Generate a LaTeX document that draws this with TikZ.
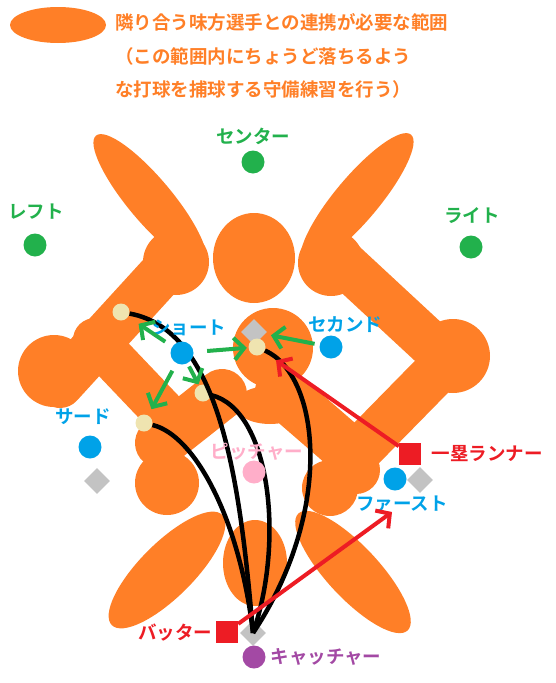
\documentclass[tikz,border=0pt]{standalone}
\usepackage{fontspec}
\setmainfont{Noto Sans CJK JP}[BoldFont={Noto Sans CJK JP Bold}]
\usetikzlibrary{arrows.meta, shapes.geometric}

\definecolor{zoneorange}{HTML}{FF7F27}
\definecolor{ofgreen}{HTML}{22B14C}
\definecolor{ifblue}{HTML}{00A2E8}
\definecolor{runred}{HTML}{ED1C24}
\definecolor{pitchpink}{HTML}{FFAEC9}
\definecolor{catchpurple}{HTML}{A349A4}
\definecolor{basegray}{HTML}{C3C3C3}
\definecolor{ballyellow}{HTML}{EFE4B0}

\begin{document}
\begin{tikzpicture}[x=1pt, y=-1pt,
      zone/.style={fill=zoneorange},
      band/.style={draw=zoneorange, line width=#1, line cap=round},
      band/.default=46pt,
      player/.style={circle, fill=#1, minimum size=23pt, inner sep=0pt},
      ball/.style={circle, fill=ballyellow, minimum size=17pt, inner sep=0pt},
      basebag/.style={diamond, fill=basegray, minimum width=26pt, minimum height=26pt, inner sep=0pt},
      runner/.style={rectangle, fill=runred, minimum size=22pt, inner sep=0pt},
      tag/.style={text=#1, font=\fontsize{18.5}{33.5}\selectfont\bfseries, inner sep=0pt},
      cover/.style={draw=ofgreen, line width=4pt, -{Straight Barb[length=10pt,width=22pt]}},
      runline/.style={draw=runred, line width=4pt, -{Straight Barb[length=10pt,width=22pt]}},
      hitline/.style={draw=black, line width=4.5pt}]

      \useasboundingbox (0,0) rectangle (555,683);

      % legend
      \fill[zone] (58,25) ellipse [x radius=48, y radius=18];
      \node[tag=zoneorange, anchor=west, align=left] (title) at (115,56)
        {隣り合う味方選手との連携が必要な範囲\\（この範囲内にちょうど落ちるよう\\な打球を捕球する守備練習を行う）};

      % zones between neighbouring fielders
      \fill[zone, rotate around={-50:(150,200)}] (150,200) ellipse [x radius=84, y radius=22];
      \fill[zone, rotate around={50:(357,199)}] (357,199) ellipse [x radius=84, y radius=22];
      \fill[zone] (176,262) circle [radius=33];
      \fill[zone] (331,263) circle [radius=33];
      \fill[zone] (254,258) ellipse [x radius=41, y radius=45];
      \fill[zone] (54,371) circle [radius=36];
      \fill[zone] (453,356) circle [radius=37];
      \draw[band] (60,385) -- (165,270);
      \draw[band] (340,260) -- (450,362);
      \draw[band=44pt] (95,340) -- (175,424);
      \draw[band] (445,363) -- (345,465);
      \fill[zone] (273,348) circle [radius=40];
      \draw[band=50pt] (222,394) -- (160,443);
      \draw[band=50pt] (280,391) -- (340,443);
      \fill[zone] (270,405) ellipse [x radius=35, y radius=19];
      \fill[zone] (167,483) circle [radius=32];
      \fill[zone] (330,488) circle [radius=28];
      \fill[zone] (356,470) circle [radius=24];
      \fill[zone, rotate around={45:(167,570)}] (167,570) ellipse [x radius=78, y radius=27];
      \fill[zone, rotate around={-47:(353,572)}] (353,572) ellipse [x radius=80, y radius=26];
      \fill[zone] (255,563) ellipse [x radius=32, y radius=43];

      % bases
      \node[basebag] (second) at (254,332) {};
      \node[basebag] (third) at (97,481) {};
      \node[basebag] (first) at (420,480) {};
      \node[basebag] (home) at (253,633) {};

      % batted balls
      \node[ball] (ballss) at (121,312) {};
      \node[ball] (ballsp) at (203,393) {};
      \node[ball] (ballst) at (144,423) {};
      \node[ball] (ballsb) at (257,347) {};

      \draw[hitline] (ballss) .. controls (220,330) and (240,480) .. (home.center);
      \draw[hitline] (ballsp) .. controls (270,410) and (285,540) .. (home.center);
      \draw[hitline] (ballst) .. controls (195,435) and (240,520) .. (home.center);
      \draw[hitline] (ballsb) .. controls (320,375) and (335,510) .. (home.center);

      % fielders
      \node[player=ofgreen] (lf) at (35,245) {};
      \node[player=ofgreen] (cf) at (253,162) {};
      \node[player=ofgreen] (rf) at (471,247) {};
      \node[player=ifblue] (ss) at (182,353) {};
      \node[player=ifblue] (sb) at (331,347) {};
      \node[player=ifblue] (tb) at (90,447) {};
      \node[player=ifblue] (fb) at (395,479) {};
      \node[player=pitchpink] (p) at (254,472) {};
      \node[player=catchpurple] (c) at (254,657) {};
      \node[runner] (run) at (410,454) {};
      \node[runner] (bat) at (227,632) {};
      \coordinate (fbtarget) at (392,512);

      \node[tag=ofgreen] (lflabel) at (36,212) {レフト};
      \node[tag=ofgreen] (cflabel) at (253,136) {センター};
      \node[tag=ofgreen] (rflabel) at (472,216) {ライト};
      \node[tag=ifblue] (sslabel) at (189,328) {ショート};
      \node[tag=ifblue] (sblabel) at (345,325) {セカンド};
      \node[tag=ifblue] (tblabel) at (83,417) {サード};
      \node[tag=ifblue] (fblabel) at (402,504) {ファースト};
      \node[tag=pitchpink] (plabel) at (257,452) {ピッチャー};
      \node[tag=catchpurple] (clabel) at (326,657) {キャッチャー};
      \node[tag=runred] (runlabel) at (487,454) {一塁ランナー};
      \node[tag=runred] (batlabel) at (175,633) {バッター};

      % covering moves
      \draw[cover, shorten <=8.5pt, shorten >=12.5pt] (ss) -- (ballss);
      \draw[cover, shorten <=13.5pt, shorten >=1.5pt] (ss) -- (ballsb);
      \draw[cover, shorten <=3.5pt, shorten >=1pt] (ss) -- (ballsp);
      \draw[cover, shorten <=8.5pt, shorten >=7pt] (ss) -- (ballst);
      \draw[cover, shorten <=5pt, shorten >=6pt] (sb) -- (second);

      % runners
      \draw[runline, shorten >=14.5pt] (run) -- (ballsb);
      \draw[runline] (bat) -- (fbtarget);
    \end{tikzpicture}
\end{document}
